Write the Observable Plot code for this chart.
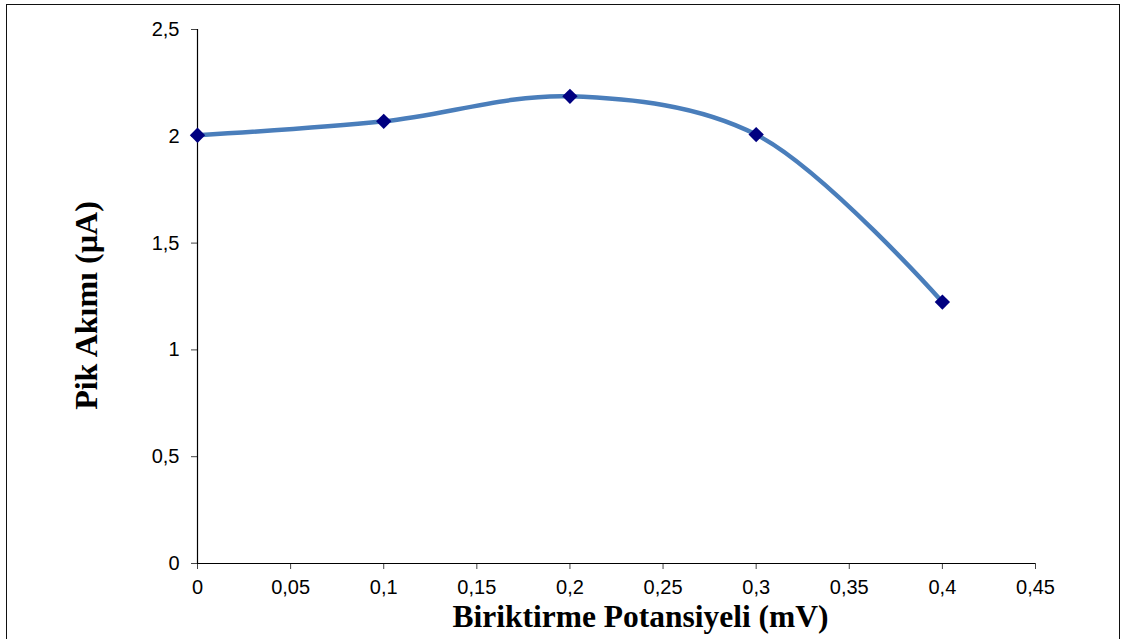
<!DOCTYPE html>
<html>
<head>
<meta charset="utf-8">
<script src="https://cdn.jsdelivr.net/npm/d3@7"></script>
<script src="https://cdn.jsdelivr.net/npm/@observablehq/plot@0.6"></script>
<style>
  html, body { margin: 0; padding: 0; background: #fff; overflow: hidden; }
  #wrap { position: relative; width: 1121px; height: 639px; }
  #border { position: absolute; left: 6px; top: 4px; width: 1114px; height: 700px; border: 1.5px solid #111; box-sizing: border-box; pointer-events: none; }
</style>
</head>
<body>
<div id="wrap"><div id="border"></div></div>
<script>
const potentials = [0, 0.1, 0.2, 0.3, 0.4];
const peakCurrents = [2.005, 2.07, 2.187, 2.008, 1.224];
const xTicks = [0, 0.05, 0.1, 0.15, 0.2, 0.25, 0.3, 0.35, 0.4, 0.45];
const yTicks = [0, 0.5, 1, 1.5, 2, 2.5];
const xTitle = "Biriktirme Potansiyeli (mV)";
const yTitle = "Pik Akımı (µA)";

const data = potentials.map((x, i) => ({x, y: peakCurrents[i]}));
const fmt = d => String(d).replace(".", ",");

const chart = Plot.plot({
  width: 1121,
  height: 639,
  marginLeft: 197,
  marginRight: 86,
  marginTop: 29,
  marginBottom: 76,
  style: {fontFamily: "'Liberation Sans', Arial, sans-serif", fontSize: "20px", color: "#000", background: "transparent", overflow: "visible"},
  x: {domain: [0, 0.45]},
  y: {domain: [0, 2.5]},
  marks: [
    Plot.axisX({ticks: xTicks, tickFormat: fmt, tickSize: 6, tickPadding: 10, fontSize: 20, label: null, stroke: "#444"}),
    Plot.axisY({ticks: yTicks, tickFormat: fmt, tickSize: 6, tickPadding: 12, fontSize: 20, label: null, stroke: "#444"}),
    Plot.ruleY([0], {stroke: "#000", strokeWidth: 1.2}),
    Plot.ruleX([0], {stroke: "#000", strokeWidth: 1.2}),
    Plot.line(data, {x: "x", y: "y", curve: "catmull-rom", stroke: "#4A7EBB", strokeWidth: 4.5}),
    Plot.dot(data, {x: "x", y: "y", symbol: "diamond2", fill: "#000080", stroke: "none", r: 6.9}),
    Plot.text([xTitle], {text: d => d, frameAnchor: "bottom", textAnchor: "middle", dx: 24, dy: 53, lineAnchor: "middle", fontFamily: "'Liberation Serif', 'Times New Roman', serif", fontWeight: "bold", fontSize: 31.5, fill: "#000"}),
    Plot.text([yTitle], {text: d => d, frameAnchor: "left", textAnchor: "middle", dx: -111, dy: 9, rotate: -90, lineAnchor: "middle", fontFamily: "'Liberation Serif', 'Times New Roman', serif", fontWeight: "bold", fontSize: 32, fill: "#000"})
  ]
});
document.getElementById("wrap").prepend(chart);
</script>
</body>
</html>
